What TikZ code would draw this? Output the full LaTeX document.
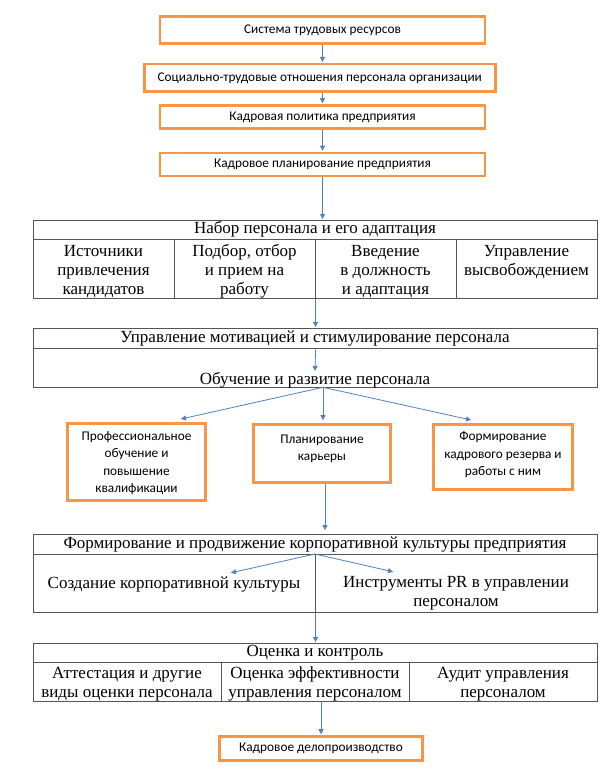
\documentclass[tikz,border=0pt]{standalone}
\usepackage{fontspec}
\setmainfont{Liberation Serif}
\newfontfamily\boxfont{Carlito}
\usetikzlibrary{arrows.meta,calc}
\definecolor{orangeline}{HTML}{F79646}
\definecolor{arrowblue}{HTML}{4F81BD}
\definecolor{tableline}{HTML}{555555}
\begin{document}
\begin{tikzpicture}[x=1pt,y=-1pt,
  obox/.style={draw=orangeline, line width=2.6pt, inner sep=0pt, align=center,
    font=\boxfont\fontsize{13.3}{17.5}\selectfont},
  btext/.style={inner sep=0pt, align=center, font=\boxfont\fontsize{13.3}{17.5}\selectfont},
  cell/.style={draw=tableline, line width=1.1pt, inner sep=0pt, anchor=north west},
  ttext/.style={inner sep=0pt, align=center, font=\fontsize{17}{19}\selectfont},
  arr/.style={draw=arrowblue, line width=0.8pt, -{Triangle[length=5pt,width=5pt]}, shorten >=1pt}
]
\useasboundingbox (0,0) rectangle (613,773);

% top orange boxes
\node[obox, minimum width=325pt, minimum height=27pt] (b1) at (322.5,30) {Система трудовых ресурсов};
\node[obox, minimum width=351pt, minimum height=27.6pt] (b2) at (319.7,78) {Социально-трудовые отношения персонала организации};
\node[obox, minimum width=325pt, minimum height=23pt] (b3) at (322.5,117) {Кадровая политика предприятия};
\node[obox, minimum width=325pt, minimum height=23pt] (b4) at (322.5,164.5) {Кадровое планирование предприятия};

% table 1
\node[cell, minimum width=564pt, minimum height=78.3pt] (t1) at (33,220) {};
\node[cell, minimum width=564pt, minimum height=19.3pt] (t1h) at (33,220) {};
\node[cell, minimum width=141pt, minimum height=59pt] (t1c1) at (33,239.3) {};
\node[cell, minimum width=141pt, minimum height=59pt] (t1c2) at (174,239.3) {};
\node[cell, minimum width=141pt, minimum height=59pt] (t1c3) at (315,239.3) {};
\node[cell, minimum width=141pt, minimum height=59pt] (t1c4) at (456,239.3) {};
\node[ttext] (t1htxt) at (315,229.5) {Набор персонала и его адаптация};
\node[ttext] (t1c1txt) at (103.5,271.5) {Источники\\привлечения\\кандидатов};
\node[ttext] (t1c2txt) at (244.5,271.5) {Подбор, отбор\\и прием на\\работу};
\node[ttext] (t1c3txt) at (385.5,271.5) {Введение\\в должность\\и адаптация};
\node[ttext] (t1c4txt) at (526.5,262) {Управление\\высвобождением};

% table 2
\node[cell, minimum width=564pt, minimum height=59.3pt] (t2) at (33,328) {};
\node[cell, minimum width=564pt, minimum height=20.3pt] (t2h) at (33,328) {};
\node[ttext] (t2htxt) at (315,338.5) {Управление мотивацией и стимулирование персонала};
\node[ttext] (t2txt) at (315,380) {Обучение и развитие персонала};
\coordinate (t2out) at (323,387.3);

% three orange boxes
\node[obox, minimum width=138pt, minimum height=77pt] (lbox) at (136.5,462) {};
\node[btext] (lboxtxt) at (136.5,463) {Профессиональное\\обучение и\\повышение\\квалификации};
\node[obox, minimum width=137pt, minimum height=58pt] (mbox) at (322,453.5) {};
\node[btext] (mboxtxt) at (322,449) {Планирование\\карьеры};
\node[obox, minimum width=139pt, minimum height=65pt] (rbox) at (503,457) {};
\node[btext] (rboxtxt) at (503,455) {Формирование\\кадрового резерва и\\работы с ним};

% table 3
\node[cell, minimum width=564pt, minimum height=78.3pt] (t3) at (33,534) {};
\node[cell, minimum width=564pt, minimum height=20pt] (t3h) at (33,534) {};
\node[cell, minimum width=282pt, minimum height=58.3pt] (t3l) at (33,554) {};
\node[cell, minimum width=282pt, minimum height=58.3pt] (t3r) at (315,554) {};
\node[ttext] (t3htxt) at (315,545) {Формирование и продвижение корпоративной культуры предприятия};
\node[ttext] (t3ltxt) at (174,585) {Создание корпоративной культуры};
\node[ttext] (t3rtxt) at (456,593.5) {Инструменты PR в управлении\\персоналом};
\coordinate (t3in) at (315,554);
\coordinate (t3ltip) at (230,573);
\coordinate (t3rtip) at (394,572);

% table 4
\node[cell, minimum width=564pt, minimum height=57.7pt] (t4) at (33,643) {};
\node[cell, minimum width=564pt, minimum height=19.3pt] (t4h) at (33,643) {};
\node[cell, minimum width=188pt, minimum height=38.4pt] (t4c1) at (33,662.3) {};
\node[cell, minimum width=188pt, minimum height=38.4pt] (t4c2) at (221,662.3) {};
\node[cell, minimum width=188pt, minimum height=38.4pt] (t4c3) at (409,662.3) {};
\node[ttext] (t4htxt) at (315,653) {Оценка и контроль};
\node[ttext] (t4c1txt) at (127,684) {Аттестация и другие\\виды оценки персонала};
\node[ttext] (t4c2txt) at (315,684) {Оценка эффективности\\управления персоналом};
\node[ttext] (t4c3txt) at (503,684) {Аудит управления\\персоналом};

% final box
\node[obox, minimum width=203pt, minimum height=24pt] (fbox) at (321,748.5) {Кадровое делопроизводство};

% arrows
\draw[arr] (b1.south) -- (b1.south |- b2.north);
\draw[arr] (b2.south -| b3.north) -- (b3.north);
\draw[arr] (b3.south) -- (b4.north);
\draw[arr] (b4.south) -- (b4.south |- t1.north);
\draw[arr] (t1.south) -- (t2.north);
\draw[arr] (t2h.south) -- (t2txt.north);
\draw[arr] (t2out) -- ([xshift=43.5pt,yshift=3pt]lbox.north);
\draw[arr] (t2out) -- ([yshift=2pt]t2out |- mbox.north);
\draw[arr] (t2out) -- ([xshift=-31pt,yshift=3pt]rbox.north);
\draw[arr] ([xshift=3pt]mbox.south) -- ([xshift=3pt,yshift=3pt]mbox.south |- t3.north);
\draw[arr] (t3in) -- (t3ltip);
\draw[arr] (t3in) -- (t3rtip);
\draw[arr] (t3.south) -- (t4.north);
\draw[arr] (t4.south -| fbox.north) -- (fbox.north);
\end{tikzpicture}
\end{document}
